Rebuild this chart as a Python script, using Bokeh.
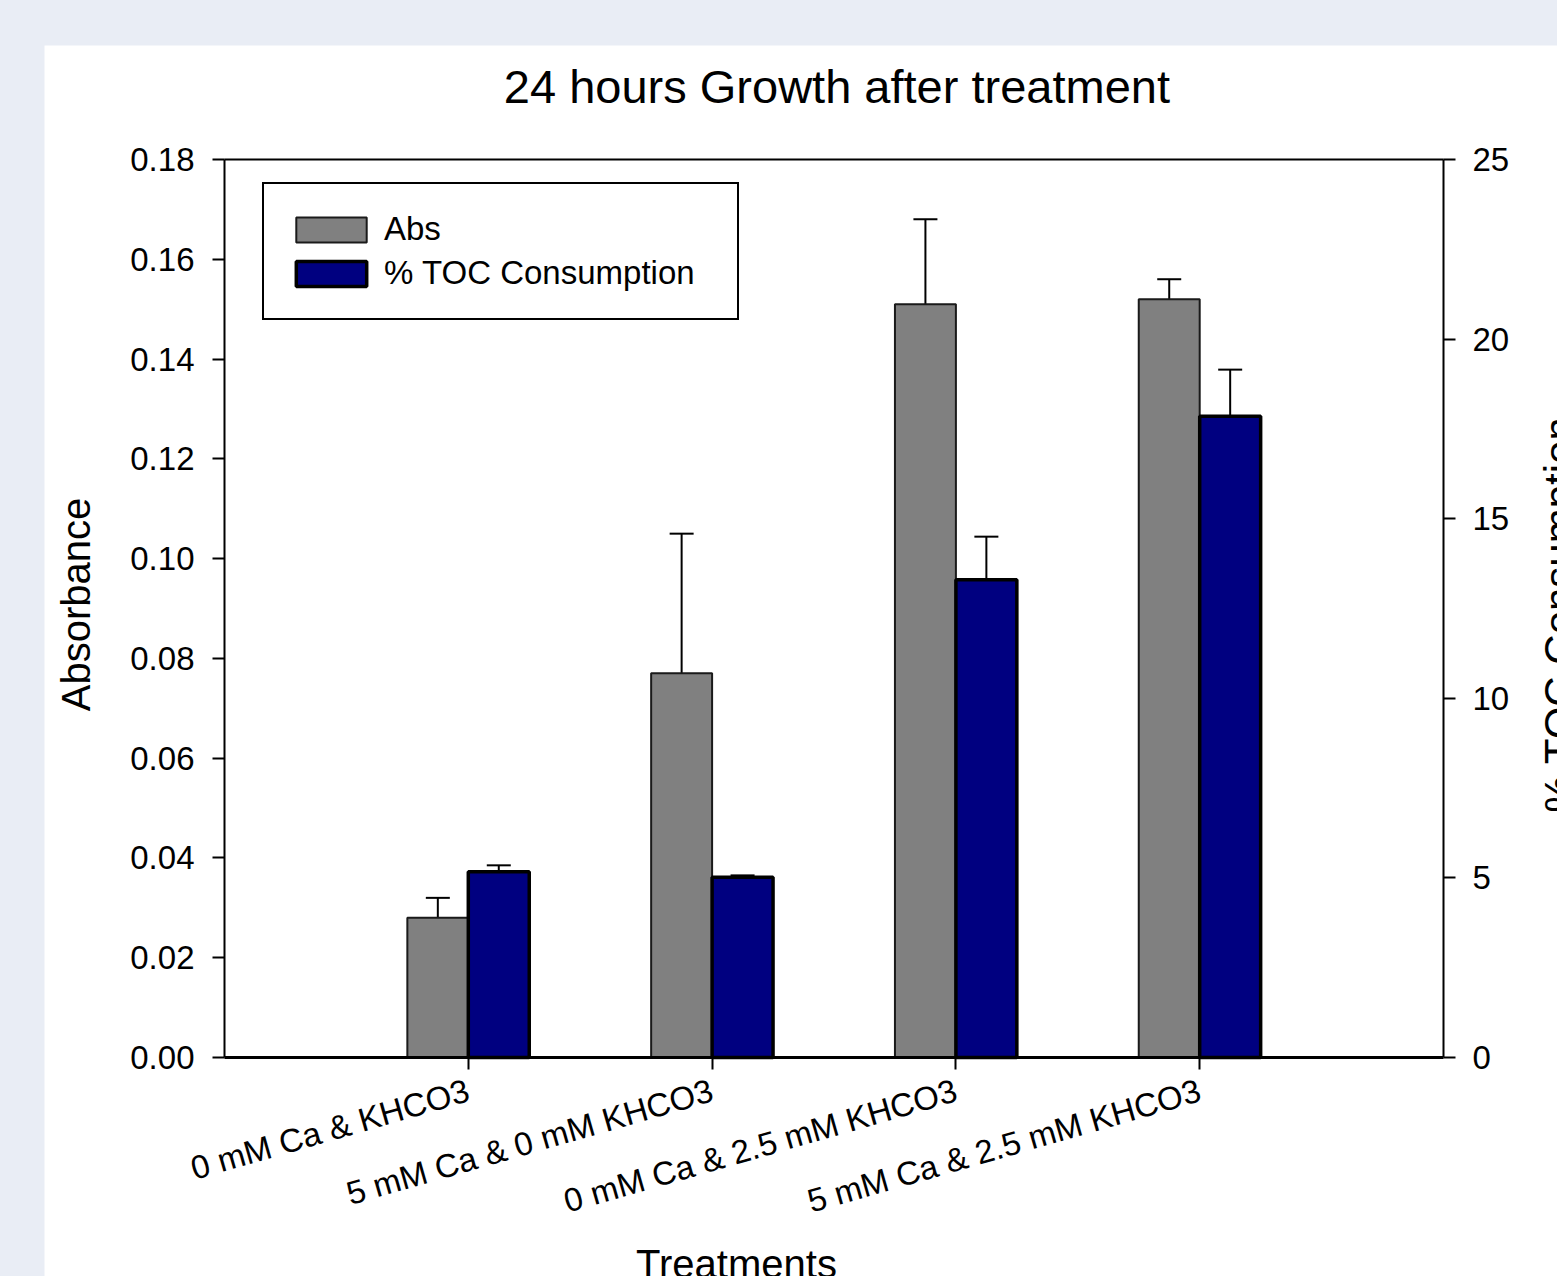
import math

from bokeh.embed import file_html
from bokeh.layouts import column, row
from bokeh.models import (ColumnDataSource, FixedTicker, Label, Legend, LegendItem,
                          LinearAxis, PrintfTickFormatter, Range1d, Spacer, TeeHead,
                          Whisker)
from bokeh.plotting import figure
from bokeh.resources import INLINE

# ---- data -------------------------------------------------------------
categories = [
    "0 mM Ca & KHCO3",
    "5 mM Ca & 0 mM KHCO3",
    "0 mM Ca & 2.5 mM KHCO3",
    "5 mM Ca & 2.5 mM KHCO3",
]
absorbance = [0.028, 0.077, 0.151, 0.152]
absorbance_err = [0.004, 0.028, 0.017, 0.004]
toc_consumption = [5.17, 5.02, 13.3, 17.85]
toc_err = [0.18, 0.05, 1.2, 1.3]

abs_ticks = [0.00, 0.02, 0.04, 0.06, 0.08, 0.10, 0.12, 0.14, 0.16, 0.18]
toc_ticks = [0, 5, 10, 15, 20, 25]

# ---- styling / geometry -----------------------------------------------
FONT = "Liberation Sans"
PAGE_BG = "#e9edf5"
GREY = "#808080"
NAVY = "#000080"
BAR_W = 0.25
TICK_FS = "33px"
LABEL_FS = "40px"

FIG_W, FIG_H = 1513, 1231
LEFT_PX = 180                 # pixel column of the value axis
AXIS_W_PX = 1219              # pixel length of the category span
TOP_PX, ZERO_PX = 114, 1012   # pixel rows of the top and the zero of the value axes

n = len(categories)
x_lo, x_hi = 0, n + 1
abs_lo, abs_hi = abs_ticks[0], abs_ticks[-1]
toc_lo, toc_hi = toc_ticks[0], toc_ticks[-1]

# the plotting frame fills the whole panel; the axes are pinned to the data box
x_per_px = (x_hi - x_lo) / AXIS_W_PX
abs_per_px = (abs_hi - abs_lo) / (ZERO_PX - TOP_PX)
toc_per_px = (toc_hi - toc_lo) / (ZERO_PX - TOP_PX)
x_range = Range1d(x_lo - x_per_px * LEFT_PX, x_lo + x_per_px * (FIG_W - LEFT_PX))
abs_range = Range1d(abs_lo - abs_per_px * (FIG_H - ZERO_PX), abs_hi + abs_per_px * TOP_PX)
toc_range = Range1d(toc_lo - toc_per_px * (FIG_H - ZERO_PX), toc_hi + toc_per_px * TOP_PX)

xs = [i + 1 for i in range(n)]
abs_x = [x - BAR_W / 2 for x in xs]
toc_x = [x + BAR_W / 2 for x in xs]

abs_src = ColumnDataSource(dict(
    x=abs_x, top=absorbance,
    lower=absorbance,
    upper=[v + e for v, e in zip(absorbance, absorbance_err)],
))
toc_src = ColumnDataSource(dict(
    x=toc_x, top=toc_consumption,
    lower=toc_consumption,
    upper=[v + e for v, e in zip(toc_consumption, toc_err)],
))

p = figure(
    width=FIG_W, height=FIG_H, title=None,
    x_range=x_range, y_range=abs_range,
    output_backend="svg", toolbar_location=None,
    min_border=0,
    border_fill_color="white", background_fill_color="white",
    outline_line_color=None,
)
p.grid.visible = False
p.extra_y_ranges = {"toc": toc_range}

# ---- axes -------------------------------------------------------------
xa = p.xaxis[0]
xa.fixed_location = abs_lo
xa.bounds = (x_lo, x_hi)
xa.ticker = FixedTicker(ticks=xs)
xa.major_label_overrides = {x: c for x, c in zip(xs, categories)}
xa.major_label_orientation = math.radians(16)
xa.major_label_standoff = 20
xa.axis_line_width = 3

ya = p.yaxis[0]
ya.fixed_location = x_lo
ya.bounds = (abs_lo, abs_hi)
ya.ticker = FixedTicker(ticks=abs_ticks)
ya.formatter = PrintfTickFormatter(format="%.2f")
ya.major_label_standoff = 18
ya.axis_line_width = 2

ra = LinearAxis(y_range_name="toc", ticker=FixedTicker(ticks=toc_ticks),
                fixed_location=x_hi, bounds=(toc_lo, toc_hi))
ra.major_label_standoff = 17
ra.axis_line_width = 2
p.add_layout(ra, "right")

# closing line along the top of the data box
ta = LinearAxis(fixed_location=abs_hi, bounds=(x_lo, x_hi),
                ticker=FixedTicker(ticks=[]))
ta.axis_line_width = 2
p.add_layout(ta, "above")

for ax in (xa, ya, ra, ta):
    ax.major_tick_line_width = 2
    ax.major_tick_out = 12
    ax.major_tick_in = 0
    ax.minor_tick_line_color = None
    ax.major_label_text_font = FONT
    ax.major_label_text_font_size = TICK_FS
    ax.major_label_text_color = "black"
    ax.axis_line_color = "black"
    ax.major_tick_line_color = "black"

# ---- bars -------------------------------------------------------------
r_abs = p.vbar(x="x", top="top", bottom=abs_lo, width=BAR_W, source=abs_src,
               fill_color=GREY, line_color="#1a1a1a", line_width=2)
r_toc = p.vbar(x="x", top="top", bottom=toc_lo, width=BAR_W, source=toc_src,
               y_range_name="toc",
               fill_color=NAVY, line_color="black", line_width=3.5)

# upward-only error bars
p.add_layout(Whisker(source=abs_src, base="x", lower="lower", upper="upper",
                     lower_head=None,
                     upper_head=TeeHead(size=24, line_width=2, line_color="black"),
                     line_width=2, line_color="black"))
p.add_layout(Whisker(source=toc_src, base="x", lower="lower", upper="upper",
                     y_range_name="toc", lower_head=None,
                     upper_head=TeeHead(size=24, line_width=2, line_color="black"),
                     line_width=2, line_color="black"))

# ---- legend -----------------------------------------------------------
legend = Legend(
    items=[LegendItem(label="Abs", renderers=[r_abs]),
           LegendItem(label="% TOC Consumption", renderers=[r_toc])],
    location=(LEFT_PX + 38, FIG_H - 275),
    glyph_width=88, glyph_height=31, label_height=44, label_width=330,
    label_text_font=FONT, label_text_font_size=TICK_FS, label_text_color="black",
    label_standoff=9, spacing=0, padding=23, margin=0,
    border_line_color="black", border_line_width=2, border_line_alpha=1.0,
    background_fill_color="white", background_fill_alpha=1.0,
)
p.add_layout(legend)

# ---- titles -----------------------------------------------------------
def text_label(x, y, text, size, angle=0.0):
    return Label(x=x, y=y, text=text, angle=angle,
                 text_align="center", text_baseline="alphabetic",
                 text_font=FONT, text_font_size=size, text_color="black")

p.add_layout(text_label(2.512, 0.1946, "24 hours Growth after treatment", "47px"))
p.add_layout(text_label(2.10, -0.0414, "Treatments", LABEL_FS))
p.add_layout(text_label(-0.609, 0.0908, "Absorbance", LABEL_FS, math.pi / 2))
p.add_layout(text_label(5.476, 0.0888, "% TOC Consumption", "42px", math.pi / 2))

page = row(
    Spacer(width=44, height=1276),
    column(Spacer(width=FIG_W, height=45), p, spacing=0),
    spacing=0,
    styles={"background-color": PAGE_BG},
)

open("out.html", "w").write(file_html(page, INLINE))
